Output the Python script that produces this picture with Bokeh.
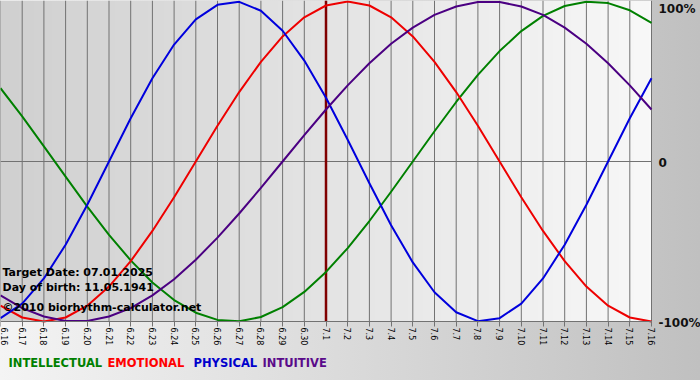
import math
import numpy as np
from bokeh.plotting import figure
from bokeh.models import Range1d, FixedTicker, Label
from bokeh.embed import file_html
from bokeh.resources import INLINE

# ---- data (day labels month.day, values in -1..1 = -100%..100%) ----
dates = ["6.16", "6.17", "6.18", "6.19", "6.20", "6.21", "6.22", "6.23", "6.24", "6.25",
         "6.26", "6.27", "6.28", "6.29", "6.30", "7.1", "7.2", "7.3", "7.4", "7.5",
         "7.6", "7.7", "7.8", "7.9", "7.10", "7.11", "7.12", "7.13", "7.14", "7.15", "7.16"]

physical = [-0.979, -0.888, -0.731, -0.520, -0.270, 0.000, 0.270, 0.520, 0.731, 0.888,
            0.979, 0.998, 0.942, 0.817, 0.631, 0.398, 0.136, -0.136, -0.398, -0.631,
            -0.817, -0.942, -0.998, -0.979, -0.888, -0.731, -0.520, -0.270, 0.000, 0.270, 0.520]

emotional = [-0.901, -0.975, -1.000, -0.975, -0.901, -0.782, -0.623, -0.434, -0.223, 0.000,
             0.223, 0.434, 0.623, 0.782, 0.901, 0.975, 1.000, 0.975, 0.901, 0.782,
             0.623, 0.434, 0.223, 0.000, -0.223, -0.434, -0.623, -0.782, -0.901, -0.975, -1.000]

intellectual = [0.458, 0.282, 0.095, -0.095, -0.282, -0.458, -0.618, -0.756, -0.866, -0.945,
                -0.990, -0.999, -0.972, -0.910, -0.815, -0.690, -0.541, -0.372, -0.189, 0.000,
                0.189, 0.372, 0.541, 0.690, 0.815, 0.910, 0.972, 0.999, 0.990, 0.945, 0.866]

intuitive = [-0.837, -0.916, -0.969, -0.997, -0.997, -0.969, -0.916, -0.837, -0.736, -0.614,
             -0.476, -0.325, -0.165, 0.000, 0.165, 0.325, 0.476, 0.614, 0.736, 0.837,
             0.916, 0.969, 0.997, 0.997, 0.969, 0.916, 0.837, 0.736, 0.614, 0.476, 0.325]

target_date = "7.1"
y_ticks = [1, 0, -1]
y_tick_labels = ["100%", "0", "-100%"]
series_names = ["INTELLECTUAL", "EMOTIONAL", "PHYSICAL", "INTUITIVE"]
info_lines = ["Target Date: 07.01.2025", "Day of birth: 11.05.1941",
              "\u00a92010 biorhythm-calculator.net"]

# ---- geometry of the page (pixels) ----
W, H = 700, 380
PLOT_W = 651          # width of the curve area
PX_PER_UNIT = 160     # pixels per 100%
ZERO_PX = 161         # pixel row of the 0 line

x = list(range(len(dates)))
n = len(dates) - 1
x_end = n * W / PLOT_W
y_top = ZERO_PX / PX_PER_UNIT
y_bot = (ZERO_PX - H) / PX_PER_UNIT

p = figure(width=W, height=H, output_backend="svg", toolbar_location=None, tools="",
           x_range=Range1d(0, x_end), y_range=Range1d(y_bot, y_top),
           min_border=0, y_axis_location=None)
p.border_fill_alpha = 0
p.background_fill_alpha = 0
p.outline_line_color = None
p.grid.visible = False
p.styles = {"background": "linear-gradient(to right, #f4f4f4, #c0c0c0)"}

# plot area background gradient (gray on left -> white on right)
NG = 256
grad = np.zeros((1, NG), dtype=np.uint32)
view = grad.view(dtype=np.uint8).reshape((1, NG, 4))
g = np.linspace(0xd0, 0xf8, NG).astype(np.uint8)
view[0, :, 0] = g
view[0, :, 1] = g
view[0, :, 2] = g
view[0, :, 3] = 255
p.image_rgba(image=[grad], x=0, y=-1, dw=n, dh=y_top + 1, level="image")

# day grid lines and zero line
GRID = "#727272"
p.segment(x0=x, y0=[-1] * len(x), x1=x, y1=[y_top] * len(x), line_color=GRID, line_width=1)
p.segment(x0=[0], y0=[0], x1=[n], y1=[0], line_color=GRID, line_width=1)

# x axis drawn at -100%
p.xaxis.fixed_location = -1
p.xaxis.bounds = (0, n)
p.xaxis.ticker = FixedTicker(ticks=x)
p.xaxis.major_label_overrides = {i: d for i, d in enumerate(dates)}
p.xaxis.major_label_orientation = -math.pi / 2
p.xaxis.major_tick_out = 5
p.xaxis.major_tick_in = 0
p.xaxis.minor_tick_line_color = None
p.xaxis.axis_line_color = GRID
p.xaxis.major_tick_line_color = GRID
p.xaxis.major_label_text_font = "DejaVu Sans"
p.xaxis.major_label_text_font_size = "8px"
p.xaxis.major_label_text_color = "#000000"
p.xaxis.major_label_standoff = 1

# target date line
ti = dates.index(target_date)
p.segment(x0=[ti], y0=[-1], x1=[ti], y1=[y_top], line_color="#800000", line_width=2.5)

# curves
colors = ["#008000", "#ee0000", "#0000dd", "#4b0082"]
for vals, col in zip([intellectual, emotional, physical, intuitive], colors):
    p.line(x, vals, line_color=col, line_width=2, line_join="round")

# right-hand percentage labels
label_dy = [-7, -1, -1]
for yv, txt, dy in zip(y_ticks, y_tick_labels, label_dy):
    p.add_layout(Label(x=n, y=yv, x_offset=7, y_offset=dy, text=txt,
                       text_font="DejaVu Sans", text_font_style="bold",
                       text_font_size="12px", text_baseline="middle",
                       text_color="#111111"))

# info texts
info_y = [-0.694, -0.7875, -0.9125]
for yv, txt in zip(info_y, info_lines):
    p.add_layout(Label(x=0, y=yv, x_offset=2, text=txt, text_font="DejaVu Sans",
                       text_font_style="bold", text_font_size="11px",
                       text_baseline="middle", text_color="#000000"))

# legend texts
legend_colors = ["#008000", "#ff0000", "#0000cc", "#5a0a8a"]
legend_px = [8, 107, 193, 262]
legend_y = (ZERO_PX - 362) / PX_PER_UNIT
for px, txt, col in zip(legend_px, series_names, legend_colors):
    p.add_layout(Label(x=px, x_units="screen", y=legend_y, text=txt,
                       text_font="DejaVu Sans", text_font_style="bold",
                       text_font_size="11.5px", text_baseline="middle", text_color=col))

open("out.html", "w").write(file_html(p, INLINE))
